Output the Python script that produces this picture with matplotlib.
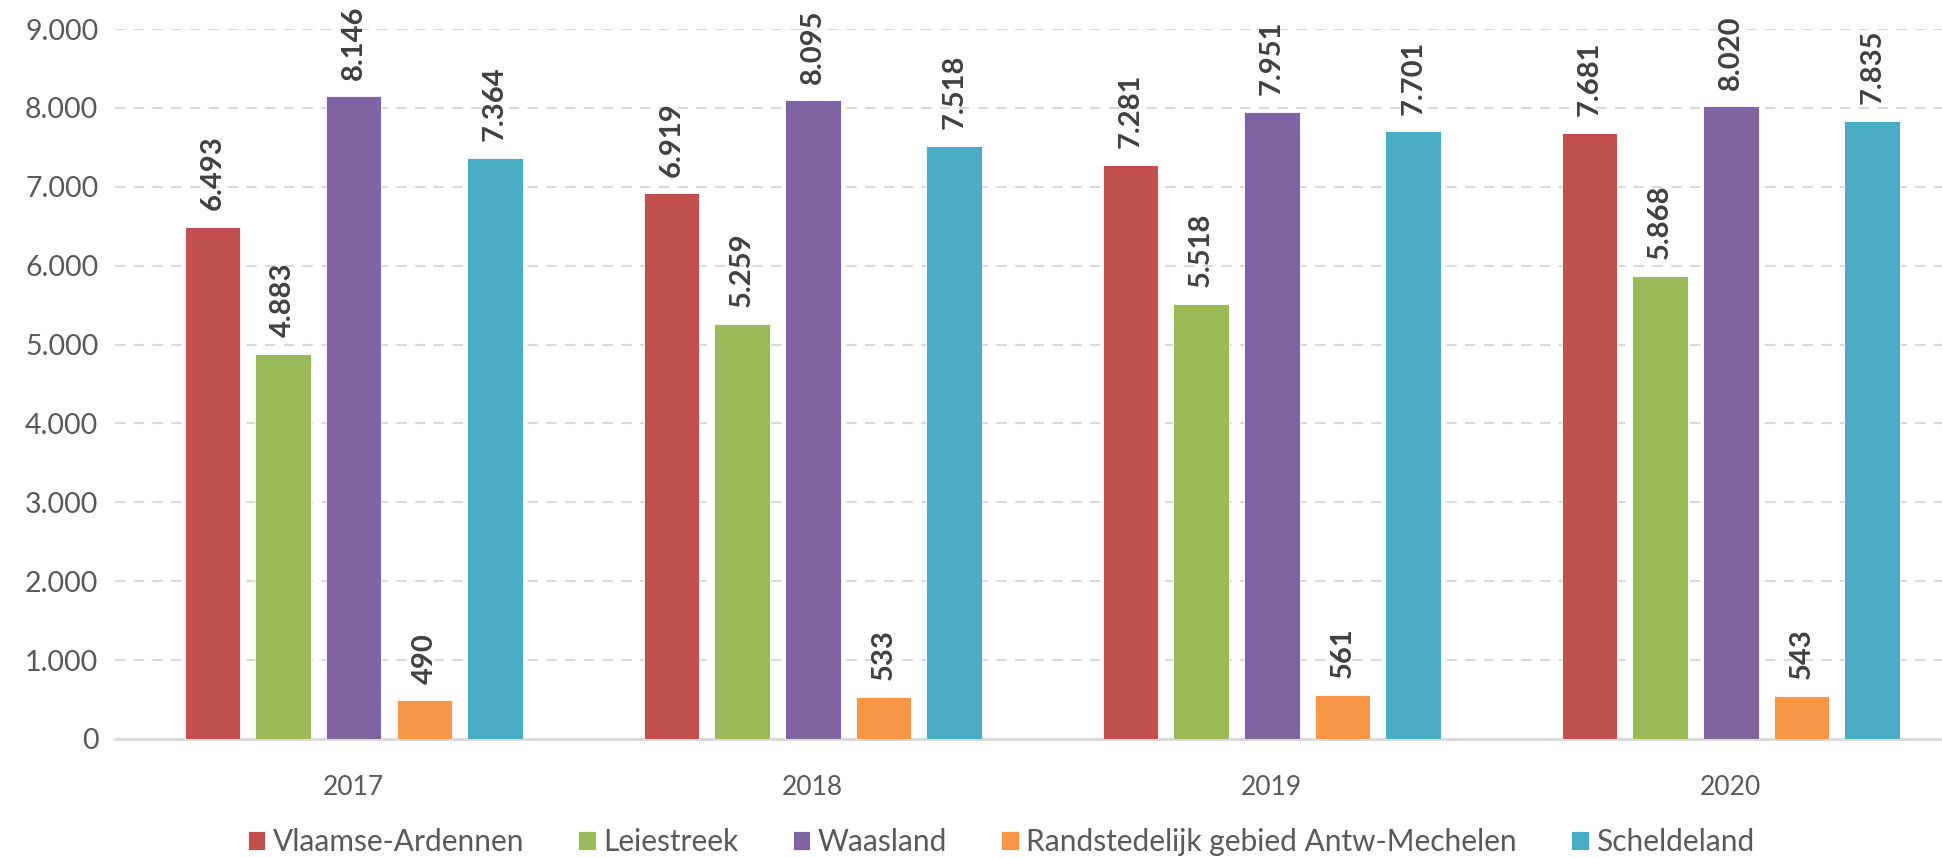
import matplotlib
matplotlib.use("Agg")
import matplotlib.pyplot as plt
import numpy as np

years = ["2017", "2018", "2019", "2020"]
regions = ["Vlaamse-Ardennen", "Leiestreek", "Waasland",
           "Randstedelijk gebied Antw-Mechelen", "Scheldeland"]
vlaamse_ardennen = [6493, 6919, 7281, 7681]
leiestreek = [4883, 5259, 5518, 5868]
waasland = [8146, 8095, 7951, 8020]
randstedelijk = [490, 533, 561, 543]
scheldeland = [7364, 7518, 7701, 7835]
series = [vlaamse_ardennen, leiestreek, waasland, randstedelijk, scheldeland]
colors = ["#C0504D", "#9BBB59", "#8064A2", "#F79646", "#4BACC6"]

plt.rcParams["font.family"] = ["Lato", "DejaVu Sans"]

fig = plt.figure(figsize=(19.42, 8.58), dpi=100)
ax = fig.add_axes([115 / 1942, 0.1387, 1 - 115 / 1942, 0.9662 - 0.1387])

x = np.arange(len(years))
width = 0.121
pitch = 0.154
for i, (name, vals, c) in enumerate(zip(regions, series, colors)):
    pos = x + (i - 2) * pitch
    bars = ax.bar(pos, vals, width, color=c, label=name,
                  edgecolor="white", linewidth=0.6, zorder=3)
    for b, v in zip(bars, vals):
        ax.annotate(f"{v:,}".replace(",", "."),
                    (b.get_x() + b.get_width() / 2, v),
                    xytext=(0, 12), textcoords="offset points",
                    rotation=90, ha="center", va="bottom",
                    fontsize=21, fontweight="bold", color="#404040",
                    annotation_clip=False)

ax.set_xlim(-0.52, 3.46)
ax.set_ylim(0, 9000)
ax.set_yticks(range(0, 9001, 1000))
ax.set_yticklabels([f"{v:,}".replace(",", ".") for v in range(0, 9001, 1000)])
ax.set_xticks(x)
ax.set_xticklabels(years)
ax.tick_params(axis="both", length=0, labelsize=19, labelcolor="#595959")
ax.tick_params(axis="y", labelsize=20.5, pad=12)
ax.tick_params(axis="x", pad=26)
ax.yaxis.grid(True, color="#D9D9D9", linestyle=(0, (5, 4)), linewidth=1.5, zorder=0)
for s in ["top", "right", "left"]:
    ax.spines[s].set_visible(False)
ax.spines["bottom"].set_color("#D9D9D9")
ax.spines["bottom"].set_linewidth(2)

fig.legend(loc="center", bbox_to_anchor=(1001 / 1942, 16 / 858), ncol=5,
           frameon=False, fontsize=21.5, labelcolor="#595959",
           handlelength=0.6, handleheight=0.6, handletextpad=0.25,
           columnspacing=1.8)

fig.savefig("out.png", dpi=100)
